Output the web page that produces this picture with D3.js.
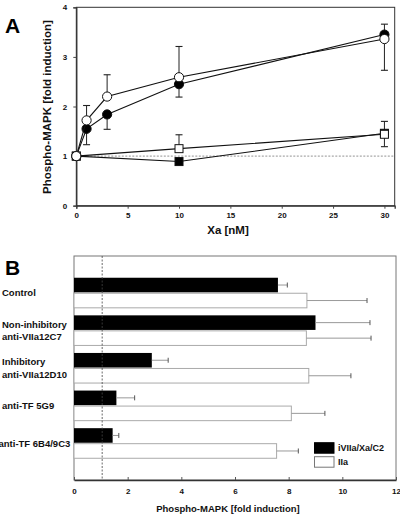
<!DOCTYPE html>
<html><head><meta charset="utf-8">
<script src="https://cdn.jsdelivr.net/npm/d3@7/dist/d3.min.js"></script>
<style>
html,body{margin:0;padding:0;background:#fff;}
svg{display:block;font-family:"Liberation Sans",Arial,sans-serif;font-weight:bold;}
</style></head>
<body>
<svg id="chart" width="400" height="522"></svg>
<script>
// ---------- Panel A data ----------
const xaTicks = [0, 5, 10, 15, 20, 25, 30];
const aYTicks = [0, 1, 2, 3, 4];
const circleX = [0, 1, 3, 10, 30];
const filledCircleY = [1, 1.55, 1.84, 2.45, 3.45];
const filledCircleErr = [null, 1.23, 1.54, 2.19, 3.66];
const openCircleY = [1, 1.72, 2.2, 2.59, 3.36];
const openCircleErr = [null, 2.02, 2.64, 3.21, 2.73];
const squareX = [0, 10, 30];
const filledSquareY = [1, 0.89, 1.46];
const filledSquareErr = [null, null, 1.70];
const openSquareY = [1, 1.15, 1.44];
const openSquareErr = [null, 1.43, 1.19];

// ---------- Panel B data ----------
const categories = ["Control", "Non-inhibitory\nanti-VIIa12C7", "Inhibitory\nanti-VIIa12D10", "anti-TF 5G9", "anti-TF 6B4/9C3"];
const seriesNames = ["iVIIa/Xa/C2", "IIa"];
const blackValues = [7.6, 9.0, 2.9, 1.58, 1.44];
const blackErr = [7.95, 11.03, 3.51, 2.26, 1.67];
const whiteValues = [8.68, 8.66, 8.75, 8.1, 7.55];
const whiteErr = [10.92, 11.07, 10.32, 9.35, 8.36];
const bTicks = [0, 2, 4, 6, 8, 10, 12];

const svg = d3.select("#chart");

// ================= PANEL A =================
const ax = d3.scaleLinear().domain([0, 31]).range([76.3, 394.7]);
const ay = d3.scaleLinear().domain([0, 4]).range([205.7, 7.3]);

svg.append("rect").attr("x", ax(0)).attr("y", ay(4)).attr("width", ax(31) - ax(0)).attr("height", ay(0) - ay(4))
  .attr("fill", "none").attr("stroke", "#333").attr("stroke-width", 1);

svg.append("line").attr("x1", ax(0)).attr("x2", ax(31)).attr("y1", ay(1)).attr("y2", ay(1))
  .attr("stroke", "#777").attr("stroke-width", 0.8).attr("stroke-dasharray", "2,1.5");

const axA = svg.append("g").attr("transform", `translate(0,${ay(0)})`)
  .call(d3.axisBottom(ax).tickValues(xaTicks).tickSize(3).tickPadding(4).tickFormat(d3.format("d")));
const ayA = svg.append("g").attr("transform", `translate(${ax(0)},0)`)
  .call(d3.axisLeft(ay).tickValues(aYTicks).tickSize(3).tickPadding(6).tickFormat(d3.format("d")));
[axA, ayA].forEach(g => {
  g.select(".domain").attr("stroke", "#333").attr("stroke-width", 1.3);
  g.selectAll(".tick line").attr("stroke", "#444");
  g.selectAll("text").attr("font-size", 8).attr("font-weight", "bold").attr("fill", "#111").attr("font-family", "Liberation Sans, Arial, sans-serif");
});

svg.append("text").attr("x", 228).attr("y", 234).attr("text-anchor", "middle")
  .attr("font-size", 11.5).attr("fill", "#111").text("Xa [nM]");
svg.append("text").attr("transform", "translate(51,107) rotate(-90)").attr("text-anchor", "middle")
  .attr("font-size", 11.5).attr("fill", "#111").text("Phospho-MAPK [fold induction]");
svg.append("text").attr("x", 5).attr("y", 32.5).attr("font-size", 21).attr("fill", "#000").text("A");

function drawSeries(xs, ys, errs, shape, filled) {
  const g = svg.append("g");
  xs.forEach((x, i) => {
    if (errs[i] == null) return;
    g.append("line").attr("x1", ax(x)).attr("x2", ax(x)).attr("y1", ay(ys[i])).attr("y2", ay(errs[i]))
      .attr("stroke", "#222").attr("stroke-width", 1);
    g.append("line").attr("x1", ax(x) - 3.5).attr("x2", ax(x) + 3.5).attr("y1", ay(errs[i])).attr("y2", ay(errs[i]))
      .attr("stroke", "#222").attr("stroke-width", 1.1);
  });
  const line = d3.line().x((d, i) => ax(xs[i])).y(d => ay(d));
  g.append("path").attr("d", line(ys)).attr("fill", "none").attr("stroke", "#111").attr("stroke-width", 1.1);
  xs.forEach((x, i) => {
    if (shape === "circle") {
      g.append("circle").attr("cx", ax(x)).attr("cy", ay(ys[i])).attr("r", 4.6)
        .attr("fill", filled ? "#000" : "#fff").attr("stroke", "#111").attr("stroke-width", 1);
    } else {
      g.append("rect").attr("x", ax(x) - 4).attr("y", ay(ys[i]) - 4).attr("width", 8).attr("height", 8)
        .attr("fill", filled ? "#000" : "#fff").attr("stroke", "#111").attr("stroke-width", 1);
    }
  });
}
drawSeries(squareX, filledSquareY, filledSquareErr, "square", true);
drawSeries(squareX, openSquareY, openSquareErr, "square", false);
drawSeries(circleX, filledCircleY, filledCircleErr, "circle", true);
drawSeries(circleX, openCircleY, openCircleErr, "circle", false);

// ================= PANEL B =================
const bx = d3.scaleLinear().domain([0, 12]).range([74, 396]);
const by = d3.scaleBand().domain(categories).range([256, 480]).paddingInner(0.2).paddingOuter(0.578);
const sub = d3.scaleBand().domain(seriesNames).range([0, by.bandwidth()]).paddingInner(0.06);

svg.append("rect").attr("x", bx(0)).attr("y", 256).attr("width", bx(12) - bx(0)).attr("height", 480 - 256)
  .attr("fill", "none").attr("stroke", "#777").attr("stroke-width", 1);

const gB = svg.append("g");
categories.forEach((c, i) => {
  const y0 = by(c);
  const yw = y0 + sub(seriesNames[1]);
  gB.append("rect").attr("x", bx(0)).attr("y", yw).attr("width", bx(whiteValues[i]) - bx(0)).attr("height", sub.bandwidth())
    .attr("fill", "#fff").attr("stroke", "#aaa").attr("stroke-width", 1);
  const yb = y0 + sub(seriesNames[0]);
  gB.append("rect").attr("x", bx(0)).attr("y", yb).attr("width", bx(blackValues[i]) - bx(0)).attr("height", sub.bandwidth())
    .attr("fill", "#000");
  [[yb, blackValues[i], blackErr[i]], [yw, whiteValues[i], whiteErr[i]]].forEach(([yy, v, e]) => {
    const cy = yy + sub.bandwidth() / 2;
    gB.append("line").attr("x1", bx(v)).attr("x2", bx(e)).attr("y1", cy).attr("y2", cy).attr("stroke", "#999").attr("stroke-width", 1);
    gB.append("line").attr("x1", bx(e)).attr("x2", bx(e)).attr("y1", cy - 2.5).attr("y2", cy + 2.5).attr("stroke", "#555").attr("stroke-width", 1);
  });
});

svg.append("line").attr("x1", bx(1.05)).attr("x2", bx(1.05)).attr("y1", 256).attr("y2", 480)
  .attr("stroke", "#444").attr("stroke-width", 0.8).attr("stroke-dasharray", "2,1.5");

const axB = svg.append("g").attr("transform", "translate(0,480)")
  .call(d3.axisBottom(bx).tickValues(bTicks).tickSizeInner(-3).tickSizeOuter(0).tickPadding(8).tickFormat(d3.format("d")));
axB.select(".domain").attr("stroke", "#333").attr("stroke-width", 1.3);
axB.selectAll(".tick line").attr("stroke", "#555");
axB.selectAll("text").attr("font-size", 8).attr("font-weight", "bold").attr("fill", "#111").attr("font-family", "Liberation Sans, Arial, sans-serif");

svg.append("text").attr("x", 228).attr("y", 512).attr("text-anchor", "middle")
  .attr("font-size", 9.5).attr("fill", "#111").text("Phospho-MAPK [fold induction]");
svg.append("text").attr("x", 5).attr("y", 275).attr("font-size", 21).attr("fill", "#000").text("B");

categories.forEach((c, i) => {
  const lines = c.split("\n");
  const cy = by(c) + by.bandwidth() / 2;
  const lh = 12.5;
  const x0 = i === categories.length - 1 ? -1.5 : 2;
  lines.forEach((t, j) => {
    svg.append("text").attr("x", x0).attr("y", cy + (j - (lines.length - 1) / 2) * lh + 3.5)
      .attr("font-size", 9.5).attr("fill", "#111").text(t);
  });
});

const legY = [442.7, 456.7];
seriesNames.forEach((s, i) => {
  svg.append("rect").attr("x", 314.5).attr("y", legY[i]).attr("width", 19.5).attr("height", 10.5)
    .attr("fill", i === 0 ? "#000" : "#fff").attr("stroke", i === 0 ? "#000" : "#777").attr("stroke-width", 1);
  svg.append("text").attr("x", 338).attr("y", legY[i] + 8.5).attr("font-size", 9).attr("fill", "#111").text(s);
});
</script>
</body></html>
